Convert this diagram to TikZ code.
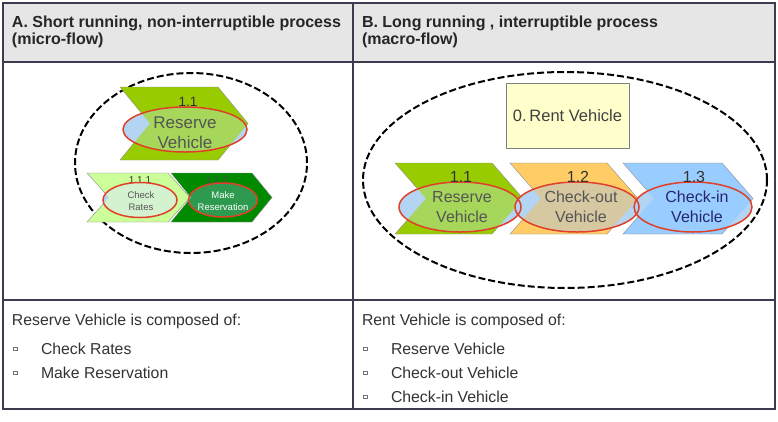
\documentclass[tikz,border=0pt]{standalone}
\usepackage{fontspec}
\setmainfont{Liberation Sans}
\definecolor{tablecol}{HTML}{3C3C50}
\definecolor{hdrfill}{HTML}{E6E6E6}
\definecolor{chgreen}{HTML}{99CC00}
\definecolor{chgreenin}{HTML}{A6D65A}
\definecolor{chlight}{HTML}{CCFF99}
\definecolor{chlightin}{HTML}{D4F2D0}
\definecolor{chdark}{HTML}{008A00}
\definecolor{chdarkin}{HTML}{2E9A50}
\definecolor{chorange}{HTML}{FFCC66}
\definecolor{chorangein}{HTML}{D6C8A0}
\definecolor{chblue}{HTML}{99CCFF}
\definecolor{blueout}{HTML}{B4D4F4}
\definecolor{redc}{HTML}{E0402A}
\definecolor{rentfill}{HTML}{FFFFCC}
\definecolor{labgray}{HTML}{555555}
\begin{document}
\begin{tikzpicture}[x=1pt,y=-1pt,
  every node/.style={inner sep=0pt, outer sep=0pt},
  tline/.style={draw=tablecol, line width=1.2pt},
  hdr/.style={font=\fontsize{16}{19}\selectfont\bfseries, text=black!85, anchor=base west},
  body/.style={font=\fontsize{15.8}{19}\selectfont, text=black!80, anchor=base west},
  bulletsq/.style={draw=black!55, line width=0.6pt, minimum size=3.5pt, inner sep=0pt},
  dashell/.style={draw=black, line width=2pt, dash pattern=on 7pt off 3pt},
  redell/.style={draw=redc, line width=1.5pt},
  chedge/.style={draw=black!45, line width=0.4pt},
  chev/.style n args={6}{insert path={(#1,#2) -- (#3,#2) -- (#3+#6,#5) -- (#3,#4) -- (#1,#4) -- (#1+#6,#5) -- cycle}},
  ell/.style n args={4}{insert path={(#1,#2) ellipse [x radius=#3pt, y radius=#4pt]}},
  biglab/.style={font=\fontsize{16}{20}\selectfont, text=labgray, align=center},
  numlab/.style={font=\fontsize{16}{16}\selectfont, text=black!80, anchor=base},
  rentbox/.style={draw=black!50, line width=0.6pt, fill=rentfill, minimum width=123pt, minimum height=65pt, font=\fontsize{16.5}{18}\selectfont, text=black!75}
]
\useasboundingbox (0,0) rectangle (778,421);
\fill[white] (0,0) rectangle (778,421);
% ---------- table ----------
\fill[hdrfill] (3,3) rectangle (775,62);
\draw[tline] (3,3) rectangle (775,409);
\draw[tline] (3,62) -- (775,62);
\draw[tline] (3,300) -- (775,300);
\draw[tline] (353,3) -- (353,409);
\node[hdr] (hA1) at (12,27) {A.\ Short running, non-interruptible process};
\node[hdr] (hA2) at (12,44) {(micro-flow)};
\node[hdr] (hB1) at (362,27) {B.\ Long running , interruptible process};
\node[hdr] (hB2) at (362,44) {(macro-flow)};
% ---------- left panel ----------
\draw[dashell] (191,163) ellipse [x radius=116pt, y radius=90pt];
% 1.1
\fill[chgreen, chedge, chev={120}{87}{218}{160}{123.5}{30}];
\fill[blueout, ell={185}{129.5}{62}{22.5}];
\begin{scope}\clip[chev={120}{87}{218}{160}{123.5}{30}];\fill[chgreenin, ell={185}{129.5}{62}{22.5}];\end{scope}
\draw[redell, ell={185}{129.5}{62}{22.5}];
\node[numlab, font=\fontsize{13.5}{14}\selectfont] (nL11) at (188,106) {1.1};
\node[biglab, font=\fontsize{17}{20}\selectfont] (tL11) at (185,133) {Reserve\\Vehicle};
% 1.1.1
\fill[chlight, chedge, chev={87}{173}{168}{222}{197.5}{22}];
\fill[blueout, ell={140}{200}{37}{17.5}];
\begin{scope}\clip[chev={87}{173}{168}{222}{197.5}{22}];\fill[chlightin, ell={140}{200}{37}{17.5}];\end{scope}
\node[numlab, font=\fontsize{10}{10}\selectfont] (nL111) at (140,183) {1.1.1};
\draw[redell, ell={140}{200}{37}{17.5}];
\node[biglab, font=\fontsize{9.5}{12}\selectfont] (tL111) at (141,201) {Check\\Rates};
% 1.1.2
\fill[chdark, chedge, chev={171}{173}{252}{222}{197.5}{20}];
\fill[blueout, ell={223}{200}{34.5}{17}];
\begin{scope}\clip[chev={171}{173}{252}{222}{197.5}{20}];\fill[chdarkin, ell={223}{200}{34.5}{17}];\end{scope}
\node[numlab, font=\fontsize{10}{10}\selectfont, text=black!70] (nL112) at (217,183) {1.1.2};
\draw[redell, ell={223}{200}{34.5}{17}];
\node[biglab, font=\fontsize{9.5}{12}\selectfont, text=white] (tL112) at (223,201) {Make\\Reservation};
% ---------- right panel ----------
\draw[dashell] (565,180) ellipse [x radius=202pt, y radius=108pt];
\node[rentbox] (rent) at (567.5,115.5) {0.\,Rent Vehicle};
% 1.1
\fill[chgreen, chedge, chev={395}{163}{492}{234}{198.5}{31}];
\fill[blueout, ell={460}{207}{61}{25}];
\begin{scope}\clip[chev={395}{163}{492}{234}{198.5}{31}];\fill[chgreenin, ell={460}{207}{61}{25}];\end{scope}
% 1.2
\fill[chorange, chedge, chev={510}{163}{607}{234}{198.5}{31}];
\fill[blueout, ell={577}{207}{62}{25}];
\begin{scope}\clip[chev={510}{163}{607}{234}{198.5}{31}];\fill[chorangein, ell={577}{207}{62}{25}];\end{scope}
% 1.3
\fill[chblue, chedge, chev={623}{163}{722}{234}{198.5}{31}];
\fill[blueout, ell={693}{207}{59}{25}];
\begin{scope}\clip[chev={623}{163}{722}{234}{198.5}{31}];\fill[chblue, ell={693}{207}{59}{25}];\end{scope}
\draw[redell, ell={460}{207}{61}{25}];
\draw[redell, ell={577}{207}{62}{25}];
\draw[redell, ell={693}{207}{59}{25}];
\node[numlab] (nR11) at (461,182) {1.1};
\node[numlab] (nR12) at (578,182) {1.2};
\node[numlab] (nR13) at (694,182) {1.3};
\node[biglab] (tR11) at (462,207) {Reserve\\Vehicle};
\node[biglab] (tR12) at (581,207) {Check-out\\Vehicle};
\node[biglab, text=black!60!blue!70!gray] (tR13) at (697,207) {Check-in\\Vehicle};
% ---------- bottom row ----------
\node[body] (cL) at (12,325) {Reserve Vehicle is composed of:};
\node[bulletsq] (bL1) at (15.5,349) {};
\node[body] (iL1) at (41,354) {Check Rates};
\node[bulletsq] (bL2) at (15.5,373) {};
\node[body] (iL2) at (41,378) {Make Reservation};
\node[body] (cR) at (362,325) {Rent Vehicle is composed of:};
\node[bulletsq] (bR1) at (365.5,349) {};
\node[body] (iR1) at (391,354) {Reserve Vehicle};
\node[bulletsq] (bR2) at (365.5,373) {};
\node[body] (iR2) at (391,378) {Check-out Vehicle};
\node[bulletsq] (bR3) at (365.5,397) {};
\node[body] (iR3) at (391,402) {Check-in Vehicle};
\end{tikzpicture}
\end{document}
